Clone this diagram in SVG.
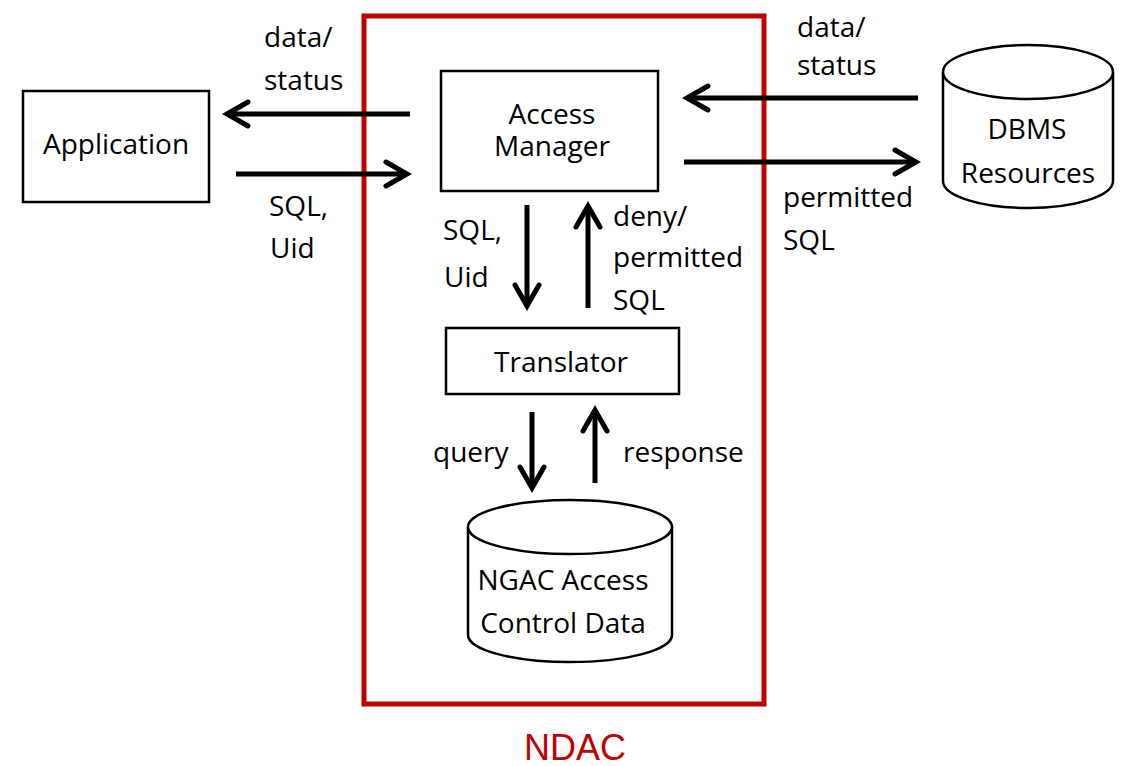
<svg xmlns="http://www.w3.org/2000/svg" width="1122" height="766" viewBox="0 0 1122 766">
<style>
.box{fill:#fff;stroke:#000;stroke-width:2.5}
.t{font-family:"Open Sans","Liberation Sans",sans-serif;font-size:28px;fill:#000}
.c{text-anchor:middle}
.conn{stroke:#000;stroke-width:5;fill:none}
</style>
<defs>
<marker id="arr" markerUnits="userSpaceOnUse" viewBox="-30 -20 40 40" markerWidth="40" markerHeight="40" refX="0" refY="0" orient="auto">
<path d="M-21,-12 L0,0 L-21,12" fill="none" stroke="#000" stroke-width="5" stroke-linecap="round"/>
</marker>
</defs>
<rect width="1122" height="766" fill="#fff"/>
<g id="ndac">
<rect x="364" y="16" width="400" height="688" fill="none" stroke="#c00000" stroke-width="5"/>
<text class="t c" x="575" y="760" style="font-size:36px;fill:#c00000;font-family:'Liberation Sans',sans-serif">NDAC</text>
</g>
<g id="application">
<rect class="box" x="23" y="91" width="186" height="111"/>
<text class="t c" x="116" y="154">Application</text>
</g>
<g id="access-manager">
<rect class="box" x="441" y="71" width="217" height="120"/>
<text class="t c" x="552" y="124">Access</text>
<text class="t c" x="552" y="156">Manager</text>
</g>
<g id="translator">
<rect class="box" x="446" y="328" width="233" height="66"/>
<text class="t c" x="561" y="372">Translator</text>
</g>
<g id="dbms">
<path class="box" d="M943,72 L943,181 A85,27 0 0 0 1113,181 L1113,72"/>
<ellipse class="box" cx="1028" cy="72" rx="85" ry="27"/>
<text class="t c" x="1027" y="139">DBMS</text>
<text class="t c" x="1028" y="183">Resources</text>
</g>
<g id="ngac">
<path class="box" d="M468,527 L468,635 A102,27 0 0 0 672,635 L672,527"/>
<ellipse class="box" cx="570" cy="527" rx="102" ry="27"/>
<text class="t c" x="563" y="590">NGAC Access</text>
<text class="t c" x="563" y="633">Control Data</text>
</g>
<g id="connectors">
<line class="conn" x1="410" y1="114" x2="227" y2="114" marker-end="url(#arr)"/>
<line class="conn" x1="236" y1="174" x2="407" y2="174" marker-end="url(#arr)"/>
<line class="conn" x1="918" y1="98" x2="687" y2="98" marker-end="url(#arr)"/>
<line class="conn" x1="684" y1="162" x2="916" y2="162" marker-end="url(#arr)"/>
<line class="conn" x1="527" y1="205" x2="527" y2="306" marker-end="url(#arr)"/>
<line class="conn" x1="588" y1="308" x2="588" y2="206" marker-end="url(#arr)"/>
<line class="conn" x1="532" y1="412" x2="532" y2="488" marker-end="url(#arr)"/>
<line class="conn" x1="595" y1="483" x2="595" y2="410" marker-end="url(#arr)"/>
</g>
<g id="labels">
<text class="t" x="264" y="47">data/</text>
<text class="t" x="264" y="90">status</text>
<text class="t" x="269" y="216">SQL,</text>
<text class="t" x="270" y="258">Uid</text>
<text class="t" x="797" y="37">data/</text>
<text class="t" x="797" y="75">status</text>
<text class="t" x="783" y="207">permitted</text>
<text class="t" x="783" y="250">SQL</text>
<text class="t" x="443" y="240">SQL,</text>
<text class="t" x="444" y="287">Uid</text>
<text class="t" x="613" y="226">deny/</text>
<text class="t" x="613" y="267">permitted</text>
<text class="t" x="613" y="310">SQL</text>
<text class="t" x="433" y="462">query</text>
<text class="t" x="623" y="462">response</text>
</g>
</svg>
